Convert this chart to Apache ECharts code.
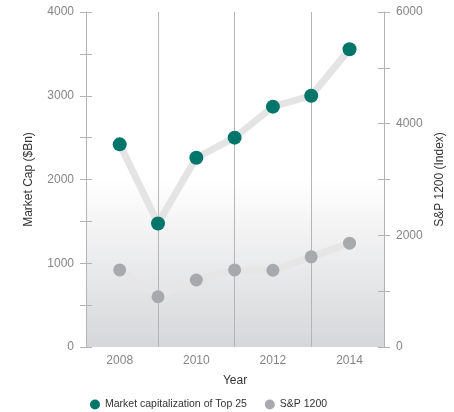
<!DOCTYPE html>
<html><head><meta charset="utf-8">
<script src="https://cdn.jsdelivr.net/npm/echarts@6/dist/echarts.min.js"></script>
<style>html,body{margin:0;padding:0;background:#fff}#c{width:454px;height:412px}</style>
</head><body><div id="c"></div>
<script>
const years = [2008, 2009, 2010, 2011, 2012, 2013, 2014];
const marketCap = [2420, 1475, 2260, 2500, 2870, 3000, 3555];
const sp1200 = [1380, 900, 1200, 1380, 1375, 1615, 1860];
const xLabelValues = [2008, 2010, 2012, 2014];
const gridYears = [2009, 2011, 2013];

const FONT = 'Liberation Sans';
const chart = echarts.init(document.getElementById('c'));
const tickColor = '#b3b3b3';
const labelColor = '#858585';
chart.setOption({
  animation: false,
  textStyle: { fontFamily: FONT },
  grid: {
    left: 86, right: 68, top: 12, bottom: 65,
    show: true, borderWidth: 0,
    backgroundColor: new echarts.graphic.LinearGradient(0, 0, 0, 1, [
      { offset: 0, color: '#ffffff' },
      { offset: 0.5, color: '#ffffff' },
      { offset: 1, color: '#d6d7da' }
    ])
  },
  legend: {
    bottom: -3, left: 85, icon: 'circle', itemWidth: 10, itemHeight: 10, itemGap: 18, itemStyle: {},
    textStyle: { fontSize: 10.5, color: '#333', fontFamily: FONT }
  },
  xAxis: {
    type: 'value', min: 2007.12, max: 2014.9,
    name: 'Year', nameLocation: 'middle', nameGap: 28,
    nameTextStyle: { fontSize: 12, color: '#333' },
    axisLine: { show: false }, axisTick: { show: false }, splitLine: { show: false },
    axisLabel: { customValues: xLabelValues, color: labelColor, fontSize: 12, margin: 8, formatter: v => String(v) }
  },
  yAxis: [
    {
      type: 'value', position: 'left', min: 0, max: 4000, interval: 500,
      name: 'Market Cap ($Bn)', nameLocation: 'middle', nameGap: 51,
      nameTextStyle: { fontSize: 12, color: '#333' },
      axisLine: { show: true, lineStyle: { color: tickColor } },
      axisTick: { show: true, length: 6, lineStyle: { color: tickColor } },
      splitLine: { show: false },
      axisLabel: { color: labelColor, fontSize: 12, margin: 12, formatter: v => (v % 1000 === 0 ? String(v) : '') }
    },
    {
      type: 'value', position: 'right', min: 0, max: 6000, interval: 1000,
      name: 'S&P 1200 (Index)', nameLocation: 'middle', nameGap: 50, nameRotate: 90,
      nameTextStyle: { fontSize: 12, color: '#333' },
      axisLine: { show: true, lineStyle: { color: tickColor } },
      axisTick: { show: true, length: 6, lineStyle: { color: tickColor } },
      splitLine: { show: false },
      axisLabel: { color: labelColor, fontSize: 12, margin: 12, formatter: v => (v % 2000 === 0 ? String(v) : '') }
    },
    {
      type: 'value', position: 'left', min: 0, max: 4000, interval: 500,
      axisLine: { show: false }, axisLabel: { show: false }, splitLine: { show: false },
      axisTick: { show: true, inside: true, length: 6, lineStyle: { color: tickColor } }
    },
    {
      type: 'value', position: 'right', min: 0, max: 6000, interval: 1000,
      axisLine: { show: false }, axisLabel: { show: false }, splitLine: { show: false },
      axisTick: { show: true, inside: true, length: 6, lineStyle: { color: tickColor } }
    }
  ],
  series: [
    {
      name: 'Market capitalization of Top 25', type: 'line', yAxisIndex: 0,
      data: years.map((y, i) => [y, marketCap[i]]),
      symbol: 'circle', symbolSize: 14,
      itemStyle: { color: '#00766b' },
      lineStyle: { color: '#e4e4e5', width: 7 },
      z: 3,
      markLine: {
        silent: true, symbol: 'none', label: { show: false },
        lineStyle: { color: '#b5b5b7', width: 1, type: 'solid' },
        data: gridYears.map(y => ({ xAxis: y })),
        z: 1
      }
    },
    {
      name: 'S&P 1200', type: 'line', yAxisIndex: 1,
      data: years.map((y, i) => [y, sp1200[i]]),
      symbol: 'circle', symbolSize: 13,
      itemStyle: { color: '#a8a9ac' },
      lineStyle: { color: '#e6e6e7', width: 7 },
      z: 2
    }
  ]
});
</script></body></html>
